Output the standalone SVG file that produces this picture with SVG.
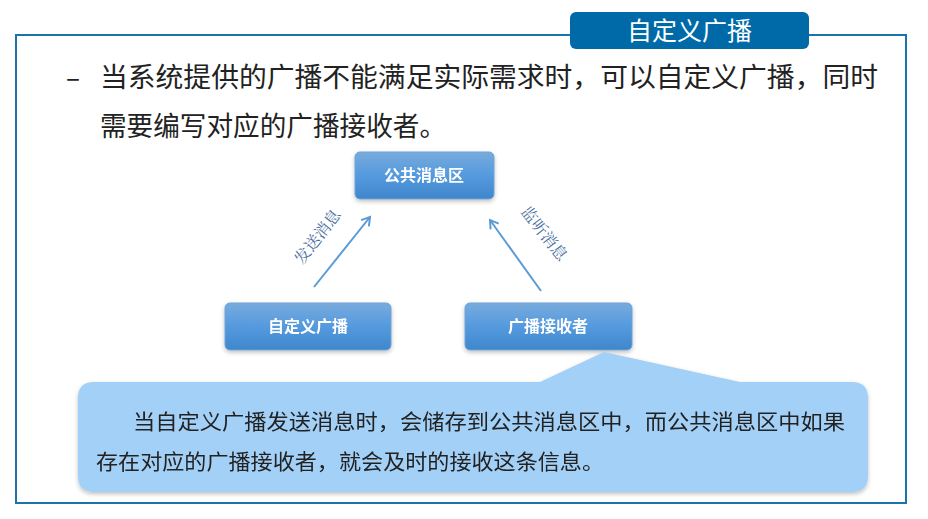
<svg xmlns="http://www.w3.org/2000/svg" width="928" height="519" viewBox="0 0 928 519">
<defs>
<linearGradient id="g" x1="0" y1="0" x2="0" y2="1"><stop offset="0" stop-color="#78abdd"/><stop offset="0.5" stop-color="#559ade"/><stop offset="1" stop-color="#3f86cc"/></linearGradient>
<marker id="a" markerWidth="12" markerHeight="12" refX="9" refY="6" orient="auto" markerUnits="userSpaceOnUse"><path d="M1,1 L9,6 L1,11" fill="none" stroke="#5b9bd5" stroke-width="2"/></marker>
<filter id="s" x="-10%" y="-10%" width="120%" height="130%"><feDropShadow dx="0" dy="2" stdDeviation="2" flood-color="#000" flood-opacity="0.25"/></filter>
</defs>
<style>
.t{font-family:"Noto Sans CJK SC",sans-serif}
.n{fill:url(#g);stroke:#6fa3d6;stroke-width:1}
.nt{font-family:"Noto Sans CJK SC",sans-serif;font-size:16px;font-weight:bold;fill:#fff;text-anchor:middle}
.l{font-family:"Noto Serif CJK SC","Noto Sans CJK SC",serif;font-size:16px;fill:#4a6fa0;text-anchor:middle}
</style>
<rect width="928" height="519" fill="#fff"/>
<rect x="16" y="35" width="890" height="468" fill="none" stroke="#1a73ab" stroke-width="2"/>
<g id="title"><rect x="570" y="12" width="239" height="37" rx="6" fill="#006aa8"/><text x="627" y="40" class="t" font-size="25" fill="#fff" textLength="125" lengthAdjust="spacingAndGlyphs">自定义广播</text></g>
<g id="bullet"><text x="66" y="87" class="t" font-size="26" fill="#222">–</text>
<text x="100" y="87" class="t" font-size="27" fill="#222" textLength="778" lengthAdjust="spacingAndGlyphs">当系统提供的广播不能满足实际需求时，可以自定义广播，同时</text>
<text x="100" y="136" class="t" font-size="27" fill="#222" textLength="346" lengthAdjust="spacingAndGlyphs">需要编写对应的广播接收者。</text></g>
<g id="connectors">
<line x1="314" y1="287" x2="370" y2="217" stroke="#5b9bd5" stroke-width="2" marker-end="url(#a)"/>
<line x1="541" y1="291" x2="490" y2="220" stroke="#5b9bd5" stroke-width="2" marker-end="url(#a)"/>
<text class="l" transform="translate(322,240) rotate(-52)">发送消息</text>
<text class="l" transform="translate(540,237) rotate(52)">监听消息</text>
</g>
<g id="n1" filter="url(#s)"><rect class="n" x="355" y="152" width="139" height="47" rx="5"/><text class="nt" x="424" y="181">公共消息区</text></g>
<g id="n2" filter="url(#s)"><rect class="n" x="225" y="303" width="166" height="47" rx="5"/><text class="nt" x="308" y="332">自定义广播</text></g>
<g id="n3" filter="url(#s)"><rect class="n" x="465" y="303" width="167" height="47" rx="5"/><text class="nt" x="548" y="332">广播接收者</text></g>
<g id="callout" filter="url(#s)">
<path d="M94,382 L540,382 L604,352 L740,382 L852,382 Q868,382 868,398 L868,476 Q868,492 852,492 L94,492 Q78,492 78,476 L78,398 Q78,382 94,382 Z" fill="#a3d0f7"/>
<text x="133" y="429" class="t" font-size="21" fill="#222" textLength="712" lengthAdjust="spacingAndGlyphs">当自定义广播发送消息时，会储存到公共消息区中，而公共消息区中如果</text>
<text x="96" y="469" class="t" font-size="21" fill="#222" textLength="508" lengthAdjust="spacingAndGlyphs">存在对应的广播接收者，就会及时的接收这条信息。</text>
</g>
</svg>
